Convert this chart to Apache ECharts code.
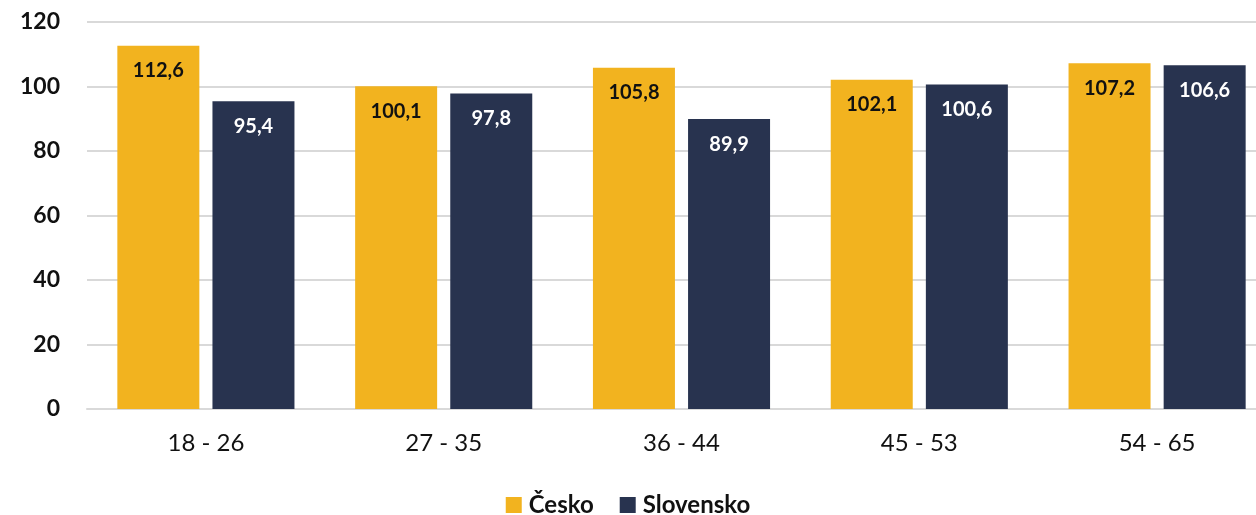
<!DOCTYPE html>
<html>
<head>
<meta charset="utf-8">
<script src="https://cdn.jsdelivr.net/npm/echarts@6/dist/echarts.min.js"></script>
<style>
html,body{margin:0;padding:0;background:#fff;}
#c{width:1256px;height:515px;}
</style>
</head>
<body>
<div id="c"></div>
<script>
const categories = ['18 - 26', '27 - 35', '36 - 44', '45 - 53', '54 - 65'];
const cesko = [112.6, 100.1, 105.8, 102.1, 107.2];
const slovensko = [95.4, 97.8, 89.9, 100.6, 106.6];
const seriesNames = ['Česko', 'Slovensko'];
const yTicks = { min: 0, max: 120, interval: 20 };

const FONT = 'Lato, "Open Sans", sans-serif';
const fmt = p => p.value.toFixed(1).replace('.', ',');

const chart = echarts.init(document.getElementById('c'), null, { renderer: 'canvas' });
chart.setOption({
  animation: false,
  textStyle: { fontFamily: FONT },
  grid: { left: 87, top: 22, width: 1189, bottom: 106, containLabel: false, outerBoundsMode: 'none' },
  legend: {
    data: seriesNames,
    left: 'center',
    top: 493,
    padding: 0,
    itemWidth: 16,
    itemHeight: 16,
    itemGap: 26,
    icon: 'rect',
    textStyle: { fontFamily: FONT, fontSize: 24, fontWeight: 'bold', color: '#111', padding: [0, 0, 0, 2], lineHeight: 24 }
  },
  xAxis: {
    type: 'category',
    data: categories,
    axisTick: { show: false },
    axisLine: { lineStyle: { color: '#d9d9d9', width: 2 } },
    axisLabel: { fontFamily: FONT, fontSize: 24, color: '#111', margin: 22 }
  },
  yAxis: {
    type: 'value',
    min: yTicks.min, max: yTicks.max, interval: yTicks.interval,
    axisLine: { show: false },
    axisTick: { show: false },
    splitLine: { lineStyle: { color: '#d9d9d9', width: 2 } },
    axisLabel: { fontFamily: FONT, fontSize: 23, fontWeight: 'bold', color: '#111', margin: 27 }
  },
  series: [
    {
      name: seriesNames[0], type: 'bar', data: cesko,
      barWidth: 82, barGap: '16%',
      itemStyle: { color: '#F2B31F' },
      label: { show: true, position: 'insideTop', distance: 15, formatter: fmt,
        fontFamily: FONT, fontSize: 20, fontWeight: 'bold', color: '#111' }
    },
    {
      name: seriesNames[1], type: 'bar', data: slovensko,
      barWidth: 82,
      itemStyle: { color: '#28334F' },
      label: { show: true, position: 'insideTop', distance: 15, formatter: fmt,
        fontFamily: FONT, fontSize: 20, fontWeight: 'bold', color: '#fff' }
    }
  ]
});
</script>
</body>
</html>
